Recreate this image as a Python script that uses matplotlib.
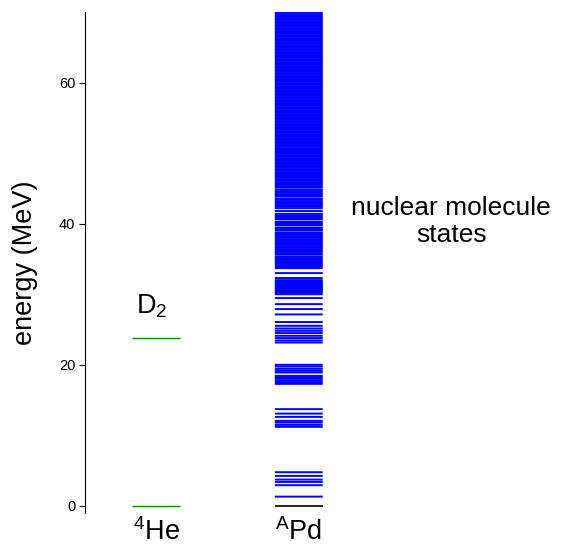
#Importing the python libraries
import matplotlib.pyplot as plt

plt.rcParams['font.family'] = ['Liberation Sans', 'DejaVu Sans']
plt.rcParams['mathtext.fontset'] = 'custom'
plt.rcParams['mathtext.rm'] = 'Liberation Sans'
plt.rcParams['mathtext.it'] = 'Liberation Sans:italic'

#Level energies (MeV)
he_levels = [0.0, 23.83]
pd_ground = [0.0]
pd_low = [1.32, 2.94, 3.40, 3.73, 4.26, 4.78,
          11.21, 11.49, 11.82, 12.06, 12.62, 13.09, 13.72,
          17.30, 17.55, 17.77, 18.01, 18.26, 18.44, 18.91, 19.15, 19.43, 19.76, 20.0,
          23.16, 23.45, 23.79, 24.11, 24.5, 24.82, 25.15, 25.53, 26.06, 27.14, 27.9,
          28.6, 29.46, 30.0, 30.2, 30.4, 30.55, 30.7, 30.85, 31.0, 31.15, 31.3, 31.45,
          31.6, 31.8, 32.0, 32.3, 33.0, 33.7, 33.9, 34.1, 34.3, 34.5, 34.7, 34.9, 35.1, 35.3]
pd_mid = [35.6, 35.8, 36.0, 36.2, 36.4, 36.6, 36.8, 37.0, 37.2, 37.4,
          37.6, 37.8, 38.0, 38.2, 38.4, 38.6, 38.75, 39.05, 39.2, 39.4,
          39.75, 39.9, 40.1, 40.25, 40.6, 40.8, 41.0, 41.2, 41.4, 41.8,
          42.2, 42.4, 42.6, 42.8, 43.0, 43.2, 43.4, 43.55, 43.85, 44.0,
          44.2, 44.4, 44.6, 44.8]
pd_high = [45.1, 45.3, 45.5, 45.7, 45.9, 46.1, 46.3, 46.5, 46.7, 46.9,
           47.1, 47.3, 47.5, 47.7, 47.9, 48.1, 48.3, 48.5, 48.7, 48.9,
           49.1, 49.3, 49.5, 49.7, 49.9, 50.1, 50.3, 50.5, 50.7, 50.9,
           51.1, 51.3, 51.5, 51.7, 51.9, 52.1, 52.3, 52.5, 52.7, 52.9,
           53.1, 53.3, 53.5, 53.7, 53.9, 54.1, 54.3, 54.5, 54.7, 54.9,
           55.1, 55.3, 55.5, 55.7, 55.9, 56.1, 56.3, 56.5, 56.7, 56.9,
           57.1, 57.3, 57.5, 57.7, 57.9, 58.1, 58.3, 58.5, 58.7, 58.9,
           59.1, 59.3, 59.5, 59.7, 59.9, 60.1, 60.3, 60.5, 60.7, 60.9,
           61.1, 61.3, 61.5, 61.7, 61.9, 62.1, 62.3, 62.5, 62.7, 62.9,
           63.1, 63.3, 63.5, 63.7, 63.9, 64.1, 64.3, 64.5, 64.7, 64.9,
           65.1, 65.3, 65.5, 65.7, 65.9, 66.1, 66.3, 66.5, 66.7, 66.9,
           67.1, 67.3, 67.5, 67.7, 67.9, 68.1, 68.3, 68.5, 68.7, 68.9,
           69.1, 69.3, 69.5, 69.7, 69.9]
columns = ['$\\mathrm{^{4}He}$', '$\\mathrm{^{A}Pd}$']
yticks = [0, 20, 40, 60]

fig = plt.figure(figsize=(5.61, 5.51), dpi=100)
ax = fig.add_axes([85/561, 38/551, 476/561, 501/551])

hw = 0.168
ax.hlines(he_levels, 1 - hw, 1 + hw, color='green', lw=1.0)
pd_lines = ax.hlines(pd_low + pd_mid + pd_high, 2 - hw, 2 + hw, color='blue', lw=1.4)
pd_lines.set_snap(False)
ax.hlines(pd_ground, 2 - hw, 2 + hw, color='black', lw=1.2)

ax.text(0.97, 28.3, '$\\mathrm{D_2}$', fontsize=19.5, ha='center', va='center')
ax.text(3.07, 40.3, 'nuclear molecule\nstates', fontsize=19, ha='center', va='center',
        linespacing=1.2)

ax.set_xlim(0.5, 3.84)
ax.set_ylim(-1, 70)
ax.set_yticks(yticks)
ax.tick_params(axis='y', labelsize=10.5, length=4, width=0.8, pad=3)
ax.set_xticks([1, 2])
ax.set_xticklabels(columns, fontsize=19.5)
ax.tick_params(axis='x', length=0, pad=4)
ax.set_ylabel('energy (MeV)', fontsize=19.5, labelpad=15)

for s in ['top', 'right', 'bottom']:
    ax.spines[s].set_visible(False)
ax.spines['left'].set_linewidth(0.8)

fig.savefig('out.png', dpi=100)
